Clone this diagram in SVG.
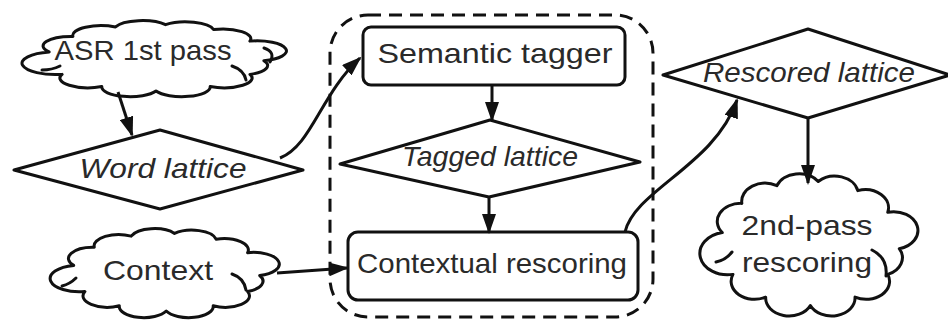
<svg xmlns="http://www.w3.org/2000/svg" width="948" height="320" viewBox="0 0 948 320">
<style>
.shape{fill:#fff;stroke:#111;stroke-width:3;stroke-linejoin:round}
.cloud{fill:#fff;stroke:#111;stroke-width:3;stroke-linejoin:round;vector-effect:non-scaling-stroke}
.curl{fill:none;stroke:#111;stroke-width:3;stroke-linecap:round}
.conn{fill:none;stroke:#111;stroke-width:3;marker-end:url(#arr)}
.dash{fill:none;stroke:#111;stroke-width:3;stroke-dasharray:13 8}
text{font-family:"Liberation Sans",Arial,sans-serif;font-size:28px;fill:#2a2a2a;text-anchor:middle}
.it{font-style:italic}
</style>
<defs>
<marker id="arr" viewBox="0 0 20 14" refX="18" refY="7" markerWidth="20" markerHeight="14" markerUnits="userSpaceOnUse" orient="auto">
<path d="M0,0 L20,7 L0,14 Z" fill="#111"/>
</marker>
</defs>
<rect class="dash" x="330" y="15" width="323" height="302" rx="38" ry="38"/>
<g id="asr">
<path class="cloud" transform="translate(27,14) scale(2.58,0.875)" d="M8.6 43.4 A11 11 0 0 1 17.8 25.6 A11 11 0 0 1 34.3 14.8 A11 11 0 0 1 53.7 12.2 A11 11 0 0 1 72.3 17.8 A11 11 0 0 1 86.4 31 A11 11 0 0 1 91.8 53.3 A11 11 0 0 1 86.4 69 A11 11 0 0 1 71 82.9 A11 11 0 0 1 50 88 A11 11 0 0 1 29 82.9 A11 11 0 0 1 13.6 69 A13 13 0 0 1 8.6 43.4 Z"/>
<path class="curl" d="M264,48 Q276,52 270,62"/>
<path class="curl" d="M232,66 Q244,70 246,80"/>
<path class="curl" d="M42,70 Q52,70 60,66"/>
<text x="143" y="60" textLength="177" lengthAdjust="spacingAndGlyphs">ASR 1st pass</text>
</g>
<g id="word">
<polygon class="shape" points="14,170 160,130 303,170 160,209"/>
<text class="it" x="163" y="178" textLength="167" lengthAdjust="spacingAndGlyphs">Word lattice</text>
</g>
<g id="context">
<path class="cloud" transform="translate(54.5,221) scale(2.235,1.023)" d="M8.6 43.4 A11 11 0 0 1 17.8 25.6 A11 11 0 0 1 34.3 14.8 A11 11 0 0 1 53.7 12.2 A11 11 0 0 1 72.3 17.8 A11 11 0 0 1 86.4 31 A11 11 0 0 1 91.8 53.3 A11 11 0 0 1 86.4 69 A11 11 0 0 1 71 82.9 A11 11 0 0 1 50 88 A11 11 0 0 1 29 82.9 A11 11 0 0 1 13.6 69 A13 13 0 0 1 8.6 43.4 Z"/>
<path class="curl" d="M232,274 Q244,278 246,290"/>
<path class="curl" d="M62,286 Q70,284 76,278"/>
<text x="158" y="280" font-size="30" textLength="110" lengthAdjust="spacingAndGlyphs">Context</text>
</g>
<g id="tagger">
<rect class="shape" x="363" y="27" width="262" height="58" rx="8"/>
<text x="495" y="63" textLength="235" lengthAdjust="spacingAndGlyphs">Semantic tagger</text>
</g>
<g id="tagged">
<polygon class="shape" points="340,164 490,120 640,162 489,197"/>
<text class="it" x="490" y="166" textLength="176" lengthAdjust="spacingAndGlyphs">Tagged lattice</text>
</g>
<g id="contextual">
<rect class="shape" x="348" y="232" width="290" height="68" rx="10"/>
<text x="492" y="273" textLength="270" lengthAdjust="spacingAndGlyphs">Contextual rescoring</text>
</g>
<g id="rescored">
<polygon class="shape" points="663,75 808,29 950,75 808,118"/>
<text class="it" x="809" y="82" textLength="212" lengthAdjust="spacingAndGlyphs">Rescored lattice</text>
</g>
<g id="second">
<path class="cloud" transform="translate(704,161.5) scale(2.127,1.636)" d="M8.6 43.4 A11 11 0 0 1 17.8 25.6 A11 11 0 0 1 34.3 14.8 A11 11 0 0 1 53.7 12.2 A11 11 0 0 1 72.3 17.8 A11 11 0 0 1 86.4 31 A11 11 0 0 1 91.8 53.3 A11 11 0 0 1 86.4 69 A11 11 0 0 1 71 82.9 A11 11 0 0 1 50 88 A11 11 0 0 1 29 82.9 A11 11 0 0 1 13.6 69 A13 13 0 0 1 8.6 43.4 Z"/>
<path class="curl" d="M872,250 Q888,258 886,276"/>
<path class="curl" d="M716,262 Q726,260 732,252"/>
<text x="807" y="235" textLength="131" lengthAdjust="spacingAndGlyphs">2nd-pass</text>
<text x="807" y="272" textLength="130" lengthAdjust="spacingAndGlyphs">rescoring</text>
</g>
<g id="connectors">
<path class="conn" d="M118,92 L132,135"/>
<path class="conn" d="M280,158 C312,145 320,95 360,58"/>
<path class="conn" d="M492,85 L492,120"/>
<path class="conn" d="M489,197 L489,232"/>
<path class="conn" d="M277,273 L347,268"/>
<path class="conn" d="M625,232 C635,190 715,165 737,100"/>
<path class="conn" d="M808,118 L808,183"/>
</g>
</svg>
